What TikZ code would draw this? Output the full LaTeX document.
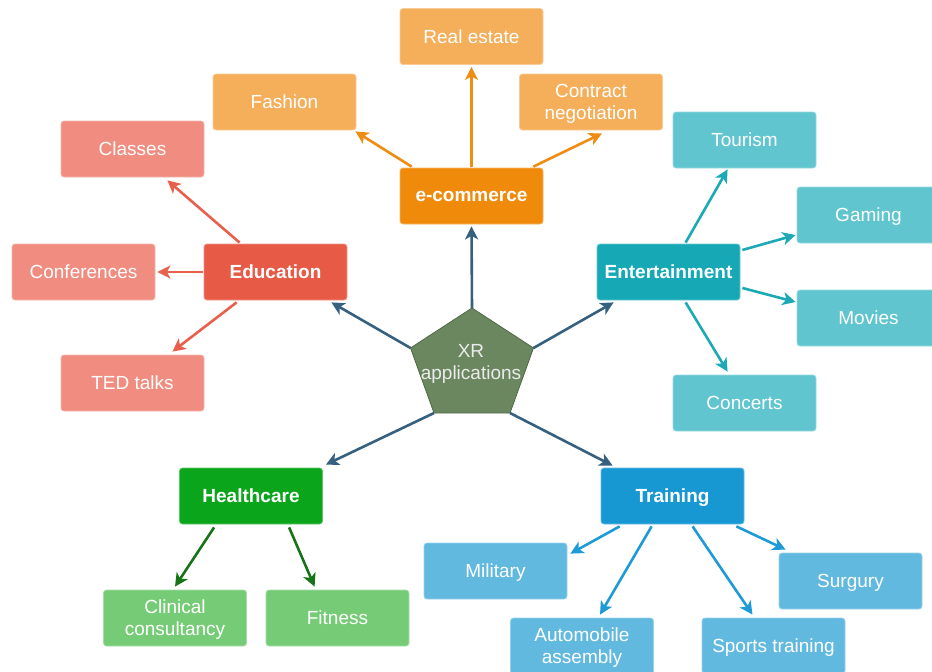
\documentclass[tikz,border=0pt]{standalone}
\usepackage{fontspec}
\setmainfont{Liberation Sans}
\usetikzlibrary{arrows.meta,calc}
\definecolor{edu}{HTML}{E65A46}
\definecolor{edul}{HTML}{F08C80}
\definecolor{edua}{HTML}{E8604C}
\definecolor{ecom}{HTML}{F08A0A}
\definecolor{ecoml}{HTML}{F5AF5B}
\definecolor{ecoma}{HTML}{F08C12}
\definecolor{ent}{HTML}{16A9B5}
\definecolor{entl}{HTML}{60C5CE}
\definecolor{enta}{HTML}{1AA9B5}
\definecolor{hea}{HTML}{0BA51C}
\definecolor{heal}{HTML}{76CC76}
\definecolor{heaa}{HTML}{167316}
\definecolor{tra}{HTML}{1898D3}
\definecolor{tral}{HTML}{62B9E0}
\definecolor{traa}{HTML}{1E9BD7}
\definecolor{cen}{HTML}{36607F}
\definecolor{pent}{HTML}{6B875F}
\definecolor{pentb}{HTML}{4F6846}
\tikzset{
  box/.style={rectangle, rounded corners=3pt, minimum width=143pt, minimum height=56pt,
    inner sep=0pt, text=white, align=center, line width=0.8pt, text depth=-1pt,
    font=\fontsize{19}{22}\selectfont},
  mainbox/.style={box, fill=#1, draw=#1!65!white, font=\fontsize{19}{22}\selectfont\bfseries},
  subbox/.style={box, fill=#1, draw=#1!65!white},
  conn/.style={draw=#1, line width=2.6pt, -{Stealth[length=13pt,width=13pt,inset=3.5pt]}}
}
\begin{document}
\begin{tikzpicture}[x=1pt,y=-1pt]
\useasboundingbox (0,0) rectangle (932,672);
\clip (0,0) rectangle (932,672);
% pentagon
\coordinate (pt) at (472,308);
\coordinate (pl) at (410.5,348);
\coordinate (pr) at (533.5,348);
\coordinate (pbl) at (434,413);
\coordinate (pbr) at (510,413);
\filldraw[fill=pent, draw=pentb, line width=0.8pt] (pt) -- (pr) -- (pbr) -- (pbl) -- (pl) -- cycle;
\node[text=white!92!black, align=center, font=\fontsize{19}{22}\selectfont] (xr) at (471,364) {XR\\applications};
% main nodes
\node[mainbox=ecom] (ecom) at (471.5,196) {e-commerce};
\node[mainbox=edu] (edu) at (275.5,272) {Education};
\node[mainbox=ent] (ent) at (668.5,272) {Entertainment};
\node[mainbox=hea] (hea) at (251,496) {Healthcare};
\node[mainbox=tra] (tra) at (672.5,496) {Training};
% sub nodes
\node[subbox=ecoml] (real) at (471.5,36.5) {Real estate};
\node[subbox=ecoml] (contract) at (591,102) {Contract\\negotiation};
\node[subbox=ecoml] (fashion) at (284.5,102) {Fashion};
\node[subbox=edul] (classes) at (132.5,149) {Classes};
\node[subbox=edul] (conf) at (83.5,272) {Conferences};
\node[subbox=edul] (ted) at (132.5,383) {TED talks};
\node[subbox=entl] (tourism) at (744.5,140) {Tourism};
\node[subbox=entl] (gaming) at (868.5,215) {Gaming};
\node[subbox=entl] (movies) at (868.5,318) {Movies};
\node[subbox=entl] (concerts) at (744.5,403) {Concerts};
\node[subbox=heal] (clinical) at (175,618) {Clinical\\consultancy};
\node[subbox=heal] (fitness) at (337.5,618) {Fitness};
\node[subbox=tral] (military) at (495.5,571) {Military};
\node[subbox=tral] (auto) at (582,646) {Automobile\\assembly};
\node[subbox=tral] (sports) at (773.5,646) {Sports training};
\node[subbox=tral] (surgury) at (850.5,581) {Surgury};
% center connectors
\draw[conn=cen] (pt) -- ($(ecom.south)+(0,2)$);
\draw[conn=cen] (pl) -- ($(edu.south east)+(-16,2)$);
\draw[conn=cen] (pr) -- ($(ent.south west)+(17,2)$);
\draw[conn=cen] (pbl) -- ($(hea.north east)+(3,-3)$);
\draw[conn=cen] (pbr) -- ($(tra.north west)+(12,-2)$);
% e-commerce
\draw[conn=ecoma] ($(ecom.north west)+(12,-1)$) -- ($(fashion.south east)+(-1,1)$);
\draw[conn=ecoma] ($(ecom.north)+(0,-1)$) -- ($(real.south)+(0,2)$);
\draw[conn=ecoma] ($(ecom.north east)+(-10,-1)$) -- ($(contract.south)+(11,3)$);
% education
\draw[conn=edua] ($(edu.north west)+(36,-1)$) -- ($(classes.south east)+(-37,3)$);
\draw[conn=edua] ($(edu.west)+(-1,0)$) -- ($(conf.east)+(2,0)$);
\draw[conn=edua] ($(edu.south west)+(33,2)$) -- ($(ted.north east)+(-32,-3)$);
% entertainment
\draw[conn=enta] ($(ent.north west)+(89,-1)$) -- ($(tourism.south west)+(55,1)$);
\draw[conn=enta] ($(ent.east)+(2,-22)$) -- ($(gaming.west)+(-1,20)$);
\draw[conn=enta] ($(ent.east)+(2,16)$) -- ($(movies.west)+(-1,-16)$);
\draw[conn=enta] ($(ent.south west)+(89,2)$) -- ($(concerts.north west)+(55,-3)$);
% healthcare
\draw[conn=heaa] ($(hea.south west)+(35,3)$) -- ($(clinical.north)+(0,-3)$);
\draw[conn=heaa] ($(hea.south west)+(110,3)$) -- ($(fitness.north west)+(49,-3)$);
% training
\draw[conn=traa] ($(tra.south west)+(19,2)$) -- ($(military.north east)+(3,11)$);
\draw[conn=traa] ($(tra.south west)+(51,2)$) -- ($(auto.north)+(18,-3)$);
\draw[conn=traa] ($(tra.south west)+(92,2)$) -- ($(sports.north)+(-21,-3)$);
\draw[conn=traa] ($(tra.south east)+(-8,2)$) -- ($(surgury.north west)+(7,-3)$);
\end{tikzpicture}
\end{document}
